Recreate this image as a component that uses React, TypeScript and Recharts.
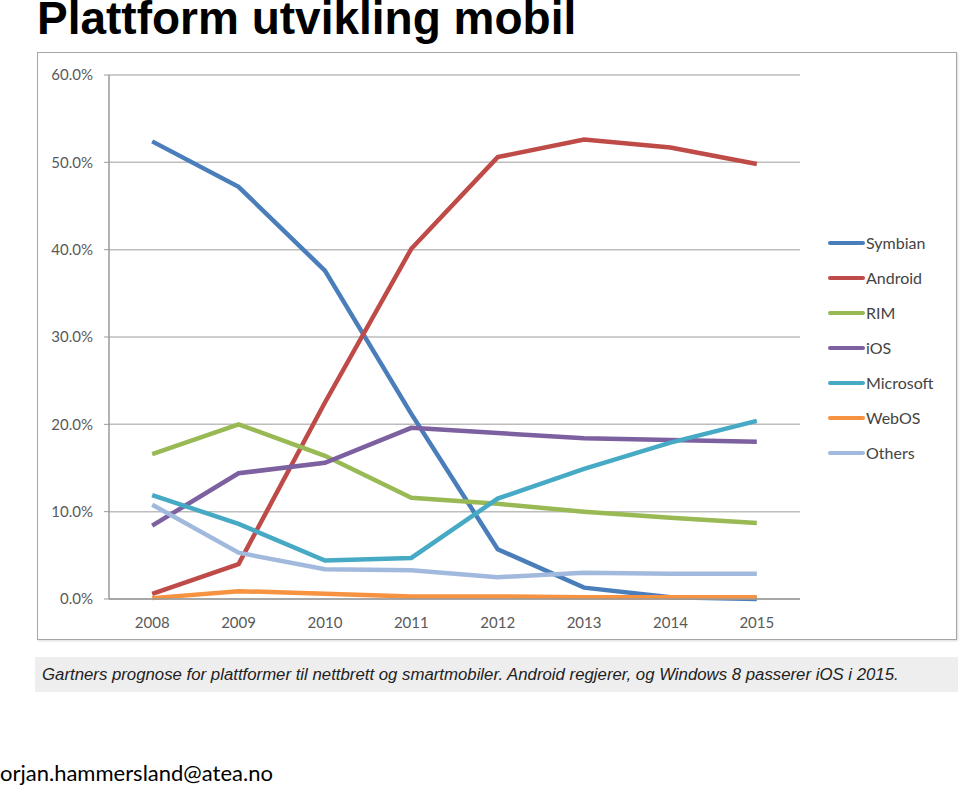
import React from "react";
import { LineChart, Line, XAxis, YAxis, CartesianGrid } from "recharts";

const YEARS = ["2008", "2009", "2010", "2011", "2012", "2013", "2014", "2015"];
const SYMBIAN = [52.4, 47.2, 37.6, 21.2, 5.7, 1.3, 0.2, 0];
const ANDROID = [0.6, 4.0, 22.5, 40.1, 50.6, 52.6, 51.7, 49.8];
const RIM = [16.6, 20.0, 16.4, 11.6, 10.9, 10.0, 9.3, 8.7];
const IOS = [8.4, 14.4, 15.6, 19.6, 19.0, 18.4, 18.2, 18.0];
const MICROSOFT = [11.9, 8.6, 4.4, 4.7, 11.5, 14.9, 17.9, 20.4];
const WEBOS = [0.1, 0.9, 0.6, 0.3, 0.3, 0.2, 0.2, 0.2];
const OTHERS = [10.8, 5.3, 3.4, 3.3, 2.5, 3.0, 2.9, 2.9];
const Y_TICKS = [0, 10, 20, 30, 40, 50, 60];

const SERIES = [
  { key: "Symbian", values: SYMBIAN, color: "#4a7ebb" },
  { key: "Android", values: ANDROID, color: "#be4b48" },
  { key: "RIM", values: RIM, color: "#98b954" },
  { key: "iOS", values: IOS, color: "#7d60a0" },
  { key: "Microsoft", values: MICROSOFT, color: "#46aac5" },
  { key: "WebOS", values: WEBOS, color: "#f69240" },
  { key: "Others", values: OTHERS, color: "#a2b9de" },
];

const data = YEARS.map((year, i) => {
  const row: Record<string, number | string> = { i, year };
  SERIES.forEach((s) => (row[s.key] = s.values[i]));
  return row;
});

// tick marks sit between the categories, like Excel's category axis
const BOUNDARIES = [-0.5, 0.5, 1.5, 2.5, 3.5, 4.5, 5.5, 6.5, 7.5];
const FONT = "Lato, 'Open Sans', sans-serif";

export default function App() {
  return (
    <div style={{ position: "absolute", left: 0, top: 0, width: 960, height: 788, background: "#fff", overflow: "hidden" }}>
      <div
        style={{
          position: "absolute",
          left: 37,
          top: -5,
          fontFamily: "'Liberation Sans', Arial, sans-serif",
          fontWeight: "bold",
          fontSize: 46,
          lineHeight: "46px",
          color: "#000",
          whiteSpace: "nowrap",
        }}
      >
        Plattform utvikling mobil
      </div>

      <div
        style={{
          position: "absolute",
          left: 37,
          top: 52,
          width: 918,
          height: 586,
          border: "1px solid #a6a6a6",
          boxShadow: "1px 1px 2px rgba(0,0,0,0.15)",
        }}
      >
        <LineChart width={918} height={586} data={data} margin={{ top: 22, right: 156, left: 0, bottom: 0 }}>
          <CartesianGrid vertical={false} stroke="#bdbdbd" strokeWidth={1.5} />
          <XAxis
            xAxisId="a_marks"
            type="number"
            dataKey="i"
            domain={[-0.5, 7.5]}
            ticks={BOUNDARIES}
            tick={false}
            tickSize={5}
            tickLine={{ stroke: "#9a9a9a" }}
            axisLine={{ stroke: "#9a9a9a", strokeWidth: 1.5 }}
            height={1}
          />
          <XAxis
            xAxisId="b_main"
            type="number"
            dataKey="i"
            domain={[-0.5, 7.5]}
            ticks={[0, 1, 2, 3, 4, 5, 6, 7]}
            tickFormatter={(v) => YEARS[v]}
            axisLine={false}
            tickLine={false}
            tick={{ fontSize: 15, fill: "#595959", fontFamily: FONT }}
            tickMargin={11}
            height={39}
          />
          <YAxis
            type="number"
            domain={[0, 60]}
            ticks={Y_TICKS}
            tickFormatter={(v) => `${v.toFixed(1)}%`}
            width={71}
            tickSize={5}
            tickMargin={11}
            tickLine={{ stroke: "#9a9a9a" }}
            axisLine={{ stroke: "#9a9a9a", strokeWidth: 1.5 }}
            tick={{ fontSize: 15, fill: "#595959", fontFamily: FONT }}
          />
          {SERIES.map((s) => (
            <Line
              key={s.key}
              xAxisId="b_main"
              dataKey={s.key}
              type="linear"
              stroke={s.color}
              strokeWidth={4.5}
              dot={false}
              activeDot={false}
              isAnimationActive={false}
            />
          ))}
        </LineChart>

        <div style={{ position: "absolute", left: 790, top: 172, fontFamily: FONT }}>
          {SERIES.map((s) => (
            <div key={s.key} style={{ display: "flex", alignItems: "center", height: 35 }}>
              <div style={{ width: 37, height: 4, background: s.color, borderRadius: 2 }} />
              <span style={{ fontSize: 16, color: "#444", marginLeft: 1 }}>{s.key}</span>
            </div>
          ))}
        </div>
      </div>

      <div
        style={{
          position: "absolute",
          left: 35,
          top: 657,
          width: 923,
          height: 35,
          background: "#eeeeee",
          fontFamily: "'Liberation Sans', Arial, sans-serif",
          fontStyle: "italic",
          fontSize: 16.8,
          lineHeight: "35px",
          paddingLeft: 7,
          boxSizing: "border-box",
          color: "#222",
          whiteSpace: "nowrap",
        }}
      >
        Gartners prognose for plattformer til nettbrett og smartmobiler. Android regjerer, og Windows 8 passerer iOS i 2015.
      </div>

      <div
        style={{
          position: "absolute",
          left: 0,
          top: 760,
          fontFamily: "Lato, 'Open Sans', sans-serif",
          fontSize: 22,
          lineHeight: "26px",
          color: "#000",
          whiteSpace: "nowrap",
        }}
      >
        orjan.hammersland@atea.no
      </div>
    </div>
  );
}
